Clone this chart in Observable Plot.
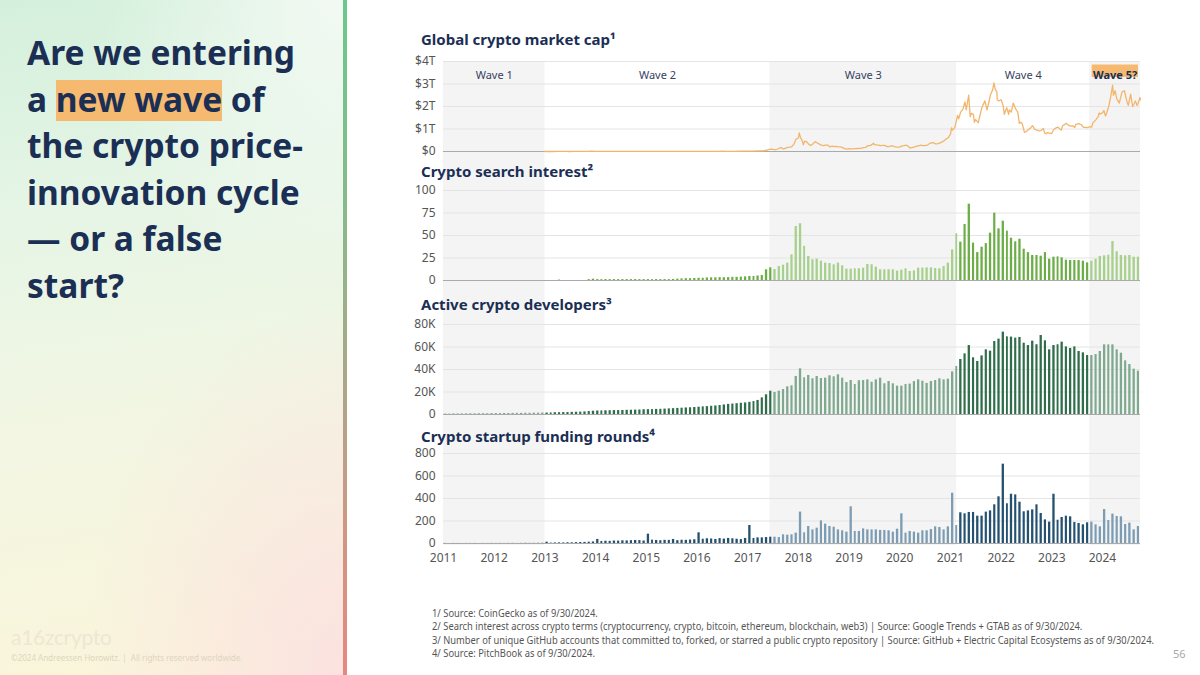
<!DOCTYPE html>
<html><head><meta charset="utf-8">
<script src="https://cdn.jsdelivr.net/npm/d3@7"></script>
<script src="https://cdn.jsdelivr.net/npm/@observablehq/plot@0.6"></script>
<style>
html,body{margin:0;padding:0}
body{width:1200px;height:675px;overflow:hidden;background:#fff;font-family:"Noto Sans","Open Sans",sans-serif;position:relative}
#left{position:absolute;left:0;top:0;width:343px;height:675px;
 background:
  radial-gradient(ellipse 75% 55% at 100% 100%, rgba(251,226,224,1) 0%, rgba(251,226,224,0) 100%),
  radial-gradient(ellipse 70% 45% at 100% 0%, rgba(244,250,244,0.95) 0%, rgba(244,250,244,0) 100%),
  linear-gradient(172deg, #d4f0dc 0%, #e6f5e6 30%, #f2f6e3 60%, #fbf5da 100%);}
#vbar{position:absolute;left:343px;top:0;width:4px;height:675px;background:linear-gradient(180deg,#69c98a 0%,#86bb88 30%,#a8a888 55%,#c99a84 75%,#e8877f 100%)}
#headline{position:absolute;left:27px;top:29px;font-weight:700;font-size:33.5px;line-height:46.5px;color:#1b2f55;white-space:nowrap}
#headline .hl{background:linear-gradient(180deg, rgba(245,185,111,0) 9%, #f5b96f 9%, #f5b96f 97%, rgba(245,185,111,0) 97%)}
#logo{position:absolute;left:11px;top:624px;font-family:Lato,"Noto Sans",sans-serif;font-size:21px;color:#ede7d3;letter-spacing:-0.3px}
#copy{position:absolute;left:11px;top:652px;font-size:8px;color:#ddd5bf;white-space:nowrap}
.ptitle{position:absolute;left:421px;font-weight:700;font-size:15px;line-height:20px;color:#1b2f55;white-space:nowrap;z-index:5}
#notes{position:absolute;left:432px;top:607px;font-size:10.5px;line-height:13.3px;color:#555;white-space:nowrap;transform-origin:0 0}
#page{position:absolute;left:1173px;top:646px;font-size:11px;color:#aaa}
</style></head>
<body>
<div id="left"></div>
<div id="vbar"></div>
<div id="headline">Are we entering<br>a <span class="hl">new wave</span> of<br>the crypto price-<br>innovation cycle<br>— or a false<br>start?</div>
<div id="logo">a16zcrypto</div>
<div id="copy">©2024 Andreessen Horowitz. | &nbsp;All rights reserved worldwide.</div>
<div class="ptitle" style="top:29px">Global crypto market cap¹</div>
<div class="ptitle" style="top:161px">Crypto search interest²</div>
<div class="ptitle" style="top:294px">Active crypto developers³</div>
<div class="ptitle" style="top:426px">Crypto startup funding rounds⁴</div>
<div id="notes">1/ Source: CoinGecko as of 9/30/2024.<br>2/ Search interest across crypto terms (cryptocurrency, crypto, bitcoin, ethereum, blockchain, web3) | Source: Google Trends + GTAB as of 9/30/2024.<br><span id="longnote">3/ Number of unique GitHub accounts that committed to, forked, or starred a public crypto repository | Source: GitHub + Electric Capital Ecosystems as of 9/30/2024.</span><br>4/ Source: PitchBook as of 9/30/2024.</div>
<div id="page">56</div>
<script>
// ---------- DATA ----------
const years = [2011,2012,2013,2014,2015,2016,2017,2018,2019,2020,2021,2022,2023,2024];
const waveNames  = ["Wave 1","Wave 2","Wave 3","Wave 4","Wave 5?"];
const waveStarts = ["2011-01-01","2013-01-01","2017-06-10","2021-02-15","2023-10-01"];
const waveEnds   = ["2013-01-01","2017-06-10","2021-02-15","2023-10-01","2024-10-01"];
const waveShaded = [true,false,true,false,true];

// Global crypto market cap, $ trillions
const capDates = [
"2013-01-01","2013-02-01","2013-03-01","2013-04-01","2013-05-01","2013-06-01","2013-07-01","2013-08-01","2013-09-01","2013-10-01","2013-11-01","2013-12-01",
"2014-01-01","2014-02-01","2014-03-01","2014-04-01","2014-05-01","2014-06-01","2014-07-01","2014-08-01","2014-09-01","2014-10-01","2014-11-01","2014-12-01",
"2015-01-01","2015-02-01","2015-03-01","2015-04-01","2015-05-01","2015-06-01","2015-07-01","2015-08-01","2015-09-01","2015-10-01","2015-11-01","2015-12-01",
"2016-01-01","2016-02-01","2016-03-01","2016-04-01","2016-05-01","2016-06-01","2016-07-01","2016-08-01","2016-09-01","2016-10-01","2016-11-01","2016-12-01",
"2017-01-01","2017-01-15","2017-02-01","2017-02-15","2017-03-01","2017-03-15","2017-04-01","2017-04-15","2017-05-01","2017-05-15","2017-06-01","2017-06-15",
"2017-07-01","2017-07-15","2017-08-01","2017-08-15","2017-09-01","2017-09-15","2017-10-01","2017-10-15","2017-11-01","2017-11-15","2017-12-01","2017-12-15",
"2018-01-01","2018-01-07","2018-01-15","2018-02-01","2018-02-06","2018-02-15","2018-03-01","2018-03-15","2018-04-01","2018-04-15","2018-05-01","2018-05-15",
"2018-06-01","2018-06-15","2018-07-01","2018-07-15","2018-08-01","2018-08-15","2018-09-01","2018-09-15","2018-10-01","2018-10-15","2018-11-01","2018-11-15","2018-12-01","2018-12-15",
"2019-01-01","2019-01-15","2019-02-01","2019-02-15","2019-03-01","2019-03-15","2019-04-01","2019-04-15","2019-05-01","2019-05-15","2019-06-01","2019-06-15","2019-06-26",
"2019-07-01","2019-07-15","2019-08-01","2019-08-15","2019-09-01","2019-09-15","2019-10-01","2019-10-15","2019-11-01","2019-11-15","2019-12-01","2019-12-15",
"2020-01-01","2020-01-15","2020-02-01","2020-02-15","2020-03-01","2020-03-15","2020-04-01","2020-04-15","2020-05-01","2020-05-15","2020-06-01","2020-06-15",
"2020-07-01","2020-07-15","2020-08-01","2020-08-15","2020-09-01","2020-09-15","2020-10-01","2020-10-15","2020-11-01","2020-11-15","2020-12-01","2020-12-15",
"2021-01-01","2021-01-08","2021-01-15","2021-02-01","2021-02-21","2021-03-01","2021-03-15","2021-04-01","2021-04-15","2021-04-25","2021-05-01","2021-05-12","2021-05-23",
"2021-06-01","2021-06-15","2021-06-22","2021-07-01","2021-07-20","2021-08-01","2021-08-15","2021-09-06","2021-09-21","2021-10-01","2021-10-15","2021-11-01","2021-11-10","2021-11-20","2021-12-01","2021-12-04","2021-12-15",
"2022-01-01","2022-01-15","2022-01-24","2022-02-01","2022-02-10","2022-02-24","2022-03-01","2022-03-15","2022-03-29","2022-04-15","2022-05-01","2022-05-12","2022-05-20",
"2022-06-01","2022-06-18","2022-07-01","2022-07-15","2022-08-01","2022-08-14","2022-09-01","2022-09-15","2022-10-01","2022-10-15","2022-11-01","2022-11-10","2022-11-21","2022-12-01","2022-12-15","2022-12-30",
"2023-01-15","2023-02-01","2023-02-15","2023-03-10","2023-03-20","2023-04-01","2023-04-14","2023-05-01","2023-05-15","2023-06-01","2023-06-15","2023-06-23","2023-07-14",
"2023-08-01","2023-08-18","2023-09-01","2023-09-15","2023-10-01","2023-10-15","2023-10-24","2023-11-01","2023-11-15","2023-12-01","2023-12-08","2023-12-15",
"2024-01-01","2024-01-11","2024-01-23","2024-02-01","2024-02-15","2024-03-01","2024-03-14","2024-03-20","2024-04-01","2024-04-13","2024-05-01","2024-05-21",
"2024-06-07","2024-06-24","2024-07-05","2024-07-22","2024-08-05","2024-08-15","2024-08-25","2024-09-06","2024-09-15","2024-09-27","2024-09-30"];
const capValues = [
0.0002,0.0003,0.0005,0.0015,0.0013,0.0012,0.0010,0.0012,0.0015,0.0017,0.0030,0.0120,
0.0100,0.0090,0.0075,0.0060,0.0060,0.0085,0.0085,0.0075,0.0065,0.0055,0.0048,0.0050,
0.0045,0.0032,0.0036,0.0036,0.0034,0.0034,0.0038,0.0042,0.0034,0.0035,0.0045,0.0055,
0.0070,0.0065,0.0070,0.0075,0.0080,0.0095,0.0105,0.0100,0.0095,0.0100,0.0115,0.0125,
0.0175,0.0160,0.0175,0.0190,0.0220,0.0230,0.0250,0.0280,0.0390,0.0550,0.0850,0.1050,
0.1000,0.0700,0.1000,0.1450,0.1700,0.1100,0.1500,0.1800,0.1900,0.2200,0.3400,0.5500,
0.6000,0.8300,0.6400,0.4300,0.3000,0.4600,0.4400,0.3300,0.2650,0.3300,0.4400,0.3900,
0.3300,0.2800,0.2600,0.2850,0.2850,0.2050,0.2400,0.2150,0.2250,0.2100,0.2100,0.1700,0.1250,0.1050,
0.1300,0.1200,0.1150,0.1250,0.1330,0.1380,0.1450,0.1750,0.1800,0.2550,0.2650,0.3050,0.3700,
0.3200,0.2900,0.2850,0.2650,0.2700,0.2700,0.2200,0.2200,0.2500,0.2350,0.2050,0.1950,
0.1920,0.2450,0.2650,0.2850,0.2450,0.1500,0.1800,0.1900,0.2450,0.2500,0.2800,0.2600,
0.2600,0.2700,0.3450,0.3850,0.3900,0.3400,0.3450,0.3700,0.4300,0.4750,0.5600,0.6100,
0.7700,1.0500,0.9500,1.0600,1.6000,1.4500,1.7500,1.8800,2.2000,1.8500,2.1000,2.5000,1.5500,
1.7000,1.6500,1.3000,1.4200,1.2800,1.6000,1.9500,2.2500,1.8500,2.1000,2.5000,2.7500,3.0500,2.7500,2.6500,2.3000,2.2500,
2.3000,2.0500,1.6500,1.8000,1.9500,1.6500,1.8500,1.7500,2.1500,1.9000,1.7500,1.2500,1.3000,
1.2500,0.8500,0.8900,0.9700,1.0500,1.1500,0.9800,0.9500,0.9200,0.9300,1.0200,0.8300,0.7900,0.8400,0.8200,0.7900,
0.9800,1.0500,1.0800,0.9500,1.1500,1.1800,1.2600,1.1700,1.1300,1.1400,1.0700,1.2100,1.2400,
1.1900,1.0700,1.0700,1.0600,1.1000,1.0800,1.2800,1.3200,1.4200,1.5500,1.7200,1.6600,
1.7200,1.8200,1.5800,1.7200,2.0000,2.4500,2.9500,2.5000,2.7000,2.3500,2.1500,2.6500,
2.7000,2.2500,2.0500,2.5500,2.0000,2.1000,2.2500,2.0500,2.1500,2.4000,2.3000];

// Monthly series, Jan 2011 – Sep 2024 (165 months)
const searchInterest = [
0,0,0,0,0,0,0,0,0,0,0,0, 0,0,0,0,0,0,0,0,0,0,0,0,
0,0,0,0.5,0,0,0,0,0,0,1,1.5,
1,1,1,1,1,1,1,1,1,1,1,1,
1,1,1,1,1,1,1.2,1.5,1.8,2,2,2.2,
2.5,2.5,2.8,3,3,3.2,3,3.2,3.5,3.5,3.8,4,
4.5,4.5,5,
5.6,11.9,14.1,12.2,15.5,17,19.3,28.5,60,63,
38,26.7,23,23.7,21.5,19.3,18.9,17.4,19.3,16.3,
12.6,12.6,13,13,13.7,17.8,17.4,14.8,11.9,11.9,
11.9,11.9,10.4,11.5,13,10,10.7,13.7,13.7,14,
14,13.3,13,15.5,19.3,34,51.9,42.6,62.2,84.8,
41.5,31,37,41,52.6,74.8,57.4,65.9,54.8,47,
43,45.9,34.8,31,27.8,27.8,27,31,23.7,25.9,
26.3,25.2,22.6,22.2,22.2,22.2,21.5,19.6,21.5,23.7,
26.7,27.4,28.1,43.3,31.9,27.8,27.4,27.8,25.9,25.9];

// thousands of developers
const activeDevelopers = [
0.4,0.4,0.5,0.5,0.5,0.6,0.6,0.6,0.7,0.7,0.7,0.8,
0.8,0.8,0.9,0.9,1.0,1.0,1.0,1.1,1.1,1.2,1.2,1.3,
1.3,1.4,1.6,1.6,1.7,1.8,1.9,2.0,2.1,2.3,2.6,2.9,
3.1,3.2,3.3,3.4,3.5,3.5,3.6,3.7,3.8,3.9,4.0,4.2,
4.3,4.4,4.5,4.6,4.8,5.0,5.2,5.4,5.6,5.8,6.0,6.2,
6.5,6.8,7.0,7.3,7.6,8.0,8.5,9.0,9.3,9.6,10.0,10.3,
10.8,11.5,12.5,
14.8,17.5,20.7,19.6,20.7,22.2,24.6,25.5,33.8,40.6,
32.6,34.7,31.7,33.8,32,32.3,34.4,33.5,35.3,32.3,
28.4,30.2,26.7,30,30.2,30.8,28.7,30.8,32.3,27.3,
29.3,27.3,25.2,25.2,26.7,27,29.3,30.8,29.6,27.6,
29.3,30.2,31.7,30.8,31.4,37.9,42.7,48.9,53.9,61.3,
50.4,47.1,52.1,57.5,56.3,64.9,67,73.2,69,68.8,
67.9,68.5,63.4,61.3,65.2,62,70.2,65.5,57.5,61.3,
62,64.3,60.1,58.7,60.1,56,54.8,52.4,52.4,53.3,
56,61.9,61.9,61.9,57.5,54.5,47.7,44.4,40.3,38.5];

const fundingRounds = [
1,0,1,1,0,1,1,1,0,1,1,2, 1,2,1,2,2,1,2,3,2,2,3,3,
12,4,5,6,5,7,6,8,9,10,12,14,
36,18,20,19,22,21,24,23,25,27,26,22,
83,30,27,25,28,28,36,25,29,28,31,33,
95,38,42,40,36,44,39,45,42,38,35,45,
160,45,50,
50,53,56,56,53,77,74,77,92,279,
95,151,121,136,201,172,151,145,121,113,
101,326,107,107,130,121,121,121,116,116,
113,101,127,264,92,107,101,92,113,113,
124,148,142,121,148,447,160,273,264,276,
276,243,243,279,290,344,415,705,353,438,
432,367,282,290,299,344,267,210,190,438,
207,231,243,237,187,178,166,184,190,166,
148,302,204,261,240,237,169,181,121,151];

// ---------- BUILD ----------
const xDomain = [new Date("2011-01-01"), new Date("2024-10-01")];
const yearDates = years.map(y => new Date(Date.UTC(y, 0, 1)));
const months = d3.utcMonth.range(xDomain[0], xDomain[1]);
const waves = waveNames.map((name, i) => {
  const start = new Date(waveStarts[i]), end = new Date(waveEnds[i]);
  return {name, start, end, shaded: waveShaded[i], mid: new Date((+start + +end) / 2), highlight: i === 4};
});
const waveOf = d => waves.find(w => d >= w.start && d < w.end) || waves[waves.length - 1];
const monthly = values => months.map((m, i) => ({start: m, end: d3.utcMonth.offset(m, 1), value: values[i], shaded: waveOf(m).shaded}));
const capData = capDates.map((d, i) => ({date: new Date(d), value: capValues[i]}));

function panel({top, mt, mb, yDomain, yTicks, yFormat, marks, xAxis = false, shadeTop, shadeBottom}) {
  const inner = 90;
  const svg = Plot.plot({
    width: 760, height: mt + inner + mb,
    marginLeft: 43, marginRight: 20, marginTop: mt, marginBottom: mb,
    style: {background: "transparent", overflow: "visible", fontFamily: "Noto Sans, Open Sans, sans-serif", fontSize: "12px", color: "#555"},
    x: xAxis
      ? {type: "utc", domain: xDomain, ticks: yearDates, tickFormat: d3.utcFormat("%Y"), tickSize: 0, tickPadding: 10, label: null}
      : {type: "utc", domain: xDomain, axis: null},
    y: {domain: yDomain, ticks: yTicks, tickFormat: yFormat, tickSize: 0, tickPadding: 8, label: null},
    color: {type: "identity"},
    marks: [
      Plot.rect(waves.filter(w => w.shaded), {x1: "start", x2: "end", fill: "#f4f4f4", insetTop: shadeTop, insetBottom: shadeBottom}),
      Plot.ruleY(yTicks.filter(t => t > 0), {stroke: "#e4e4e4"}),
      Plot.ruleY([0], {stroke: "#aaaaaa"}),
      ...marks
    ]
  });
  const div = document.createElement("div");
  div.style.cssText = `position:absolute;left:400px;top:${top}px;z-index:1`;
  div.appendChild(svg);
  document.body.appendChild(div);
}

const bars = (values, light, dark) =>
  Plot.rect(monthly(values), {x1: "start", x2: "end", y1: 0, y2: "value", fill: d => d.shaded ? light : dark, insetLeft: 1, insetRight: 1});

// Panel 1: market cap
panel({top: 25, mt: 36, mb: 2, shadeTop: 0, shadeBottom: -2,
  yDomain: [0, 4], yTicks: [0, 1, 2, 3, 4], yFormat: d => d === 0 ? "$0" : `$${d}T`,
  marks: [
    Plot.line(capData, {x: "date", y: "value", stroke: "#f3b56c", strokeWidth: 1.3}),
    Plot.rect(waves.filter(w => w.highlight), {x1: "start", x2: "end", fill: "#f5b96f", insetTop: 3.5, insetBottom: 74, insetLeft: 2.5, insetRight: 2}),
    Plot.text(waves.filter(w => !w.highlight), {x: "mid", text: "name", frameAnchor: "top", dy: 10, fontSize: 11, fill: "#37435f"}),
    Plot.text(waves.filter(w => w.highlight), {x: "mid", text: "name", frameAnchor: "top", dy: 10, fontSize: 11, fontWeight: "bold", fill: "#1b2f55"})
  ]});

// Panel 2: search interest
panel({top: 153, mt: 37, mb: 2, shadeTop: -37, shadeBottom: -2,
  yDomain: [0, 100], yTicks: [0, 25, 50, 75, 100], yFormat: d => `${d}`,
  marks: [bars(searchInterest, "#a6d08b", "#6cad47")]});

// Panel 3: developers
panel({top: 282, mt: 42, mb: 2, shadeTop: -42, shadeBottom: -2,
  yDomain: [0, 80], yTicks: [0, 20, 40, 60, 80], yFormat: d => d === 0 ? "0" : `${d}K`,
  marks: [bars(activeDevelopers, "#7fa98f", "#2f6d4b")]});

// Panel 4: funding
panel({top: 416, mt: 37, mb: 28, shadeTop: -37, shadeBottom: -2, xAxis: true,
  yDomain: [0, 800], yTicks: [0, 200, 400, 600, 800], yFormat: d => `${d}`,
  marks: [bars(fundingRounds, "#7b9cb2", "#255170")]});

// fit footnotes to the reference width (condensed look)
const notes = document.getElementById("notes");
const w = document.getElementById("longnote").getBoundingClientRect().width;
notes.style.transform = `scaleX(${722 / w})`;
</script>
</body></html>
